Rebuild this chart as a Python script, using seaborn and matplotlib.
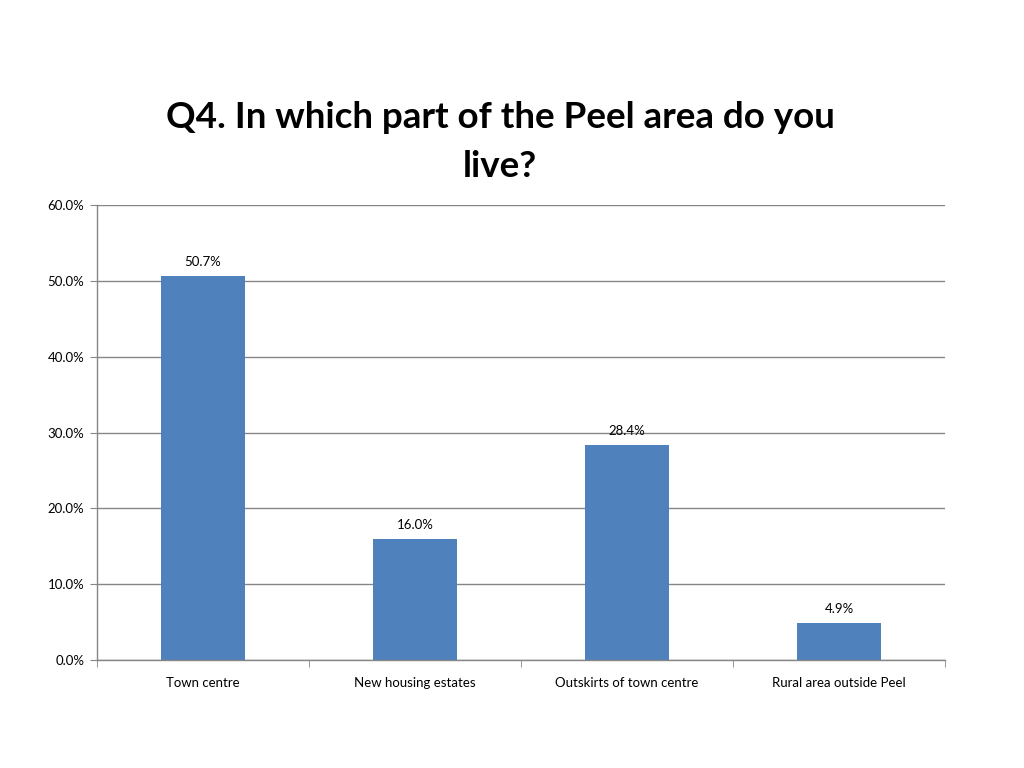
import matplotlib
matplotlib.use("Agg")
import matplotlib.pyplot as plt
import seaborn as sns
import pandas as pd
from matplotlib.ticker import FixedLocator, PercentFormatter

categories = ["Town centre", "New housing estates", "Outskirts of town centre", "Rural area outside Peel"]
values = [50.7, 16.0, 28.4, 4.9]
title = "Q4. In which part of the Peel area do you\nlive?"

sns.set_style("white")
plt.rcParams['font.family'] = ['Lato', 'DejaVu Sans']

df = pd.DataFrame({"cat": categories, "val": values})

fig = plt.figure(figsize=(10.24, 7.68), dpi=100)
ax = fig.add_axes([97/1024, 1-660/768, (945-97)/1024, (660-205)/768])
sns.barplot(data=df, x="cat", y="val", color="#4F81BD", width=0.4, saturation=1,
            linewidth=0, ax=ax)

ax.set_ylim(0, 60)
ax.set_xlim(-0.5, len(categories)-0.5)
ax.set_yticks([0, 10, 20, 30, 40, 50, 60])
ax.yaxis.set_major_formatter(PercentFormatter(decimals=1))
ax.grid(axis="y", color="#868686", linewidth=1)
ax.set_axisbelow(True)
ax.set_xlabel("")
ax.set_ylabel("")
for s in ["top", "right"]:
    ax.spines[s].set_visible(False)
for s in ["left", "bottom"]:
    ax.spines[s].set_color("#868686")
    ax.spines[s].set_linewidth(1)

ax.xaxis.set_major_locator(FixedLocator(range(len(categories))))
ax.set_xticks([i - 0.5 for i in range(len(categories)+1)], minor=True)
ax.tick_params(axis="x", which="major", length=0, labelsize=9.5, pad=12, colors="black")
ax.tick_params(axis="x", which="minor", length=5, color="#868686", direction="out", bottom=True)
ax.tick_params(axis="y", length=5, color="#868686", direction="out", left=True, labelsize=9.5, pad=4,
               labelcolor="black")

for i, v in enumerate(values):
    ax.text(i, v + 1.0, f"{v:.1f}%", ha="center", va="bottom", fontsize=9.5, color="black")

fig.text(500/1024, 1-142/768, title, ha="center", va="center", fontsize=26.5,
         fontweight="bold", linespacing=1.62, color="black")

fig.savefig("out.png", dpi=100)
